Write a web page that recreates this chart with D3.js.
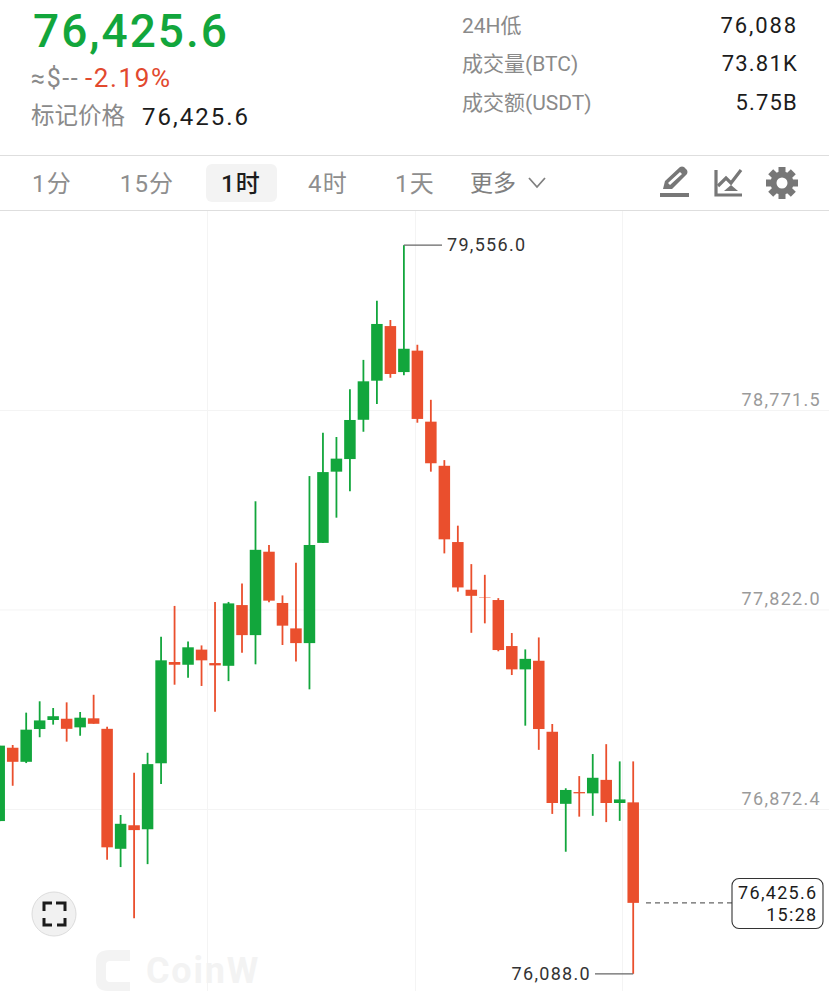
<!DOCTYPE html>
<html><head><meta charset="utf-8">
<script src="https://cdn.jsdelivr.net/npm/d3@7"></script>
<style>html,body{margin:0;padding:0;background:#fff;overflow:hidden}svg{display:block}
text{font-family:"Roboto","Noto Sans CJK SC",sans-serif}</style></head><body>
<script>
const opens =[76815,77164,77097,77253,77296,77302,77261,77304,77254,76683,76795,76776,77090,77572,77559,77631,77567,77554,77843,77700,78097,77853,77732,77662,78139,78478,78538,78725,78911,79171,78952,79054,78716,78506,78143,77916,77881,77867,77648,77537,77578,77240,76897,76953,76947,77011,76901,76904];
const highs =[77177,77177,77331,77385,77353,77380,77334,77416,77264,76844,77045,77140,77692,77839,77670,77651,77858,77858,77946,78337,78129,77889,78045,78457,78663,78643,78870,79010,79292,79200,79556,79082,78820,78533,78221,78038,77987,77876,77710,77632,77689,77277,76971,77029,77134,77181,77099,77099];
const lows  =[76810,76983,77091,77214,77274,77193,77221,77278,76631,76596,76353,76610,76991,77464,77497,77458,77335,77481,77616,77561,77856,77653,77575,77442,78139,78259,78385,78668,78800,78925,78937,78711,78478,78089,77907,77711,77756,77623,77510,77269,77154,76849,76669,76836,76840,76810,76816,76088];
const closes=[77174,77097,77250,77294,77314,77254,77307,77278,76690,76802,76772,77086,77580,77559,77642,77580,77556,77851,77700,78106,77864,77745,77662,78129,78476,78540,78724,78908,79181,78943,79063,78729,78518,78156,77927,77887,77879,77629,77537,77587,77253,76901,76963,76947,77021,76901,76918,76425.6];
const axisTicks=[78771.5,77822.0,76872.4];
const highLabel=79556.0, lowLabel=76088.0, lastPrice=76425.6, countdown="15:28";
const intervals=["1分","15分","1时","4时","1天"];
const statNames=["24H低","成交量(BTC)","成交额(USDT)"];
const statValues=["76,088","73.81K","5.75B"];

const W=829,H=991,GREEN="#12a63c",RED="#ea4f2d",GRID="#f4f4f4",GREY="#8a8a8a",INK="#1c1c1c";
const svg=d3.select("body").append("svg").attr("width",W).attr("height",H);
const x=d3.scaleLinear([0,47],[-0.8,633.2]);
const y=d3.scaleLinear([76872.4,78771.5],[809,410]);
const fmt=d3.format(",.1f");
const T=(px,py,s,size,fill,anchor,extra)=>{const t=svg.append("text").attr("x",px).attr("y",py).attr("font-size",size).attr("fill",fill).attr("text-anchor",anchor||"start").text(s);if(extra)Object.entries(extra).forEach(([k,v])=>t.attr(k,v));return t;};

// grid
svg.append("g").selectAll("line").data(axisTicks).join("line").attr("x1",0).attr("x2",W).attr("y1",d=>y(d)+.5).attr("y2",d=>y(d)+.5).attr("stroke",GRID);
svg.append("g").selectAll("line").data([207,415,622]).join("line").attr("x1",d=>d+.5).attr("x2",d=>d+.5).attr("y1",211).attr("y2",H).attr("stroke",GRID);

// watermark
const wm=svg.append("g").attr("fill","#f3f3f3");
wm.append("path").attr("d","M110 950h20v11h-20q-4 0-4 4v13q0 4 4 4h20v9h-22q-12 0-12-11v-19q0-11 14-11z");
wm.append("text").attr("x",146).attr("y",983).attr("font-size",36).attr("font-weight",700).attr("letter-spacing",1.8).text("CoinW");

// candles
const data=opens.map((o,i)=>({i,o,h:highs[i],l:lows[i],c:closes[i]}));
const col=d=>d.c>=d.o?GREEN:RED;
const cg=svg.append("g");
cg.selectAll("line").data(data).join("line").attr("x1",d=>x(d.i)).attr("x2",d=>x(d.i)).attr("y1",d=>y(d.h)).attr("y2",d=>y(d.l)).attr("stroke",col).attr("stroke-width",1.8);
cg.selectAll("rect").data(data).join("rect").attr("x",d=>x(d.i)-5.75).attr("width",11.5).attr("y",d=>y(Math.max(d.o,d.c))).attr("height",d=>Math.abs(y(d.o)-y(d.c))).attr("fill",col);

// y labels
const LS={"letter-spacing":1.3};
axisTicks.forEach(t=>T(821,y(t)-4,fmt(t),18,"#9a9a9a","end",LS));

// high/low callouts
const hiI=highs.indexOf(d3.max(highs)),loI=lows.indexOf(d3.min(lows));
svg.append("line").attr("x1",x(hiI)).attr("x2",442).attr("y1",y(highLabel)).attr("y2",y(highLabel)).attr("stroke","#666").attr("stroke-width",1.2);
T(447,y(highLabel)+6,fmt(highLabel),18,"#333","start",LS);
svg.append("line").attr("x1",x(loI)).attr("x2",595).attr("y1",y(lowLabel)).attr("y2",y(lowLabel)).attr("stroke","#666").attr("stroke-width",1.2);
T(591,y(lowLabel)+6,fmt(lowLabel),18,"#333","end",LS);

// last price
svg.append("line").attr("x1",646).attr("x2",732).attr("y1",y(lastPrice)).attr("y2",y(lastPrice)).attr("stroke","#666").attr("stroke-width",1.2).attr("stroke-dasharray","5 4");
svg.append("rect").attr("x",732).attr("y",878.5).attr("width",91).attr("height",50).attr("rx",7).attr("fill","#fff").attr("stroke","#333").attr("stroke-width",1.1);
T(817.5,899,fmt(lastPrice),18,INK,"end",LS);
T(817.5,921,countdown,18,INK,"end",LS);

// header
T(33,47,fmt(lastPrice),46,GREEN,"start",{"font-weight":500,"letter-spacing":2});
T(31,87,"≈$--",25,GREY,"start",{"letter-spacing":1.6});
T(85,87,"-2.19%",26,"#e2492e","start",{"letter-spacing":1.6});
T(31,124,"标记价格",23.5,GREY);
T(142,125,fmt(lastPrice),24,INK,"start",{"letter-spacing":2});
const rowY=[33,71,110];
statNames.forEach((s,i)=>T(462,rowY[i],s,21,GREY));
statValues.forEach((s,i)=>T(798,rowY[i],s,22,INK,"end",{"letter-spacing":i==0?1.9:1.2}));

// toolbar
svg.append("rect").attr("x",-1).attr("y",155.5).attr("width",W+2).attr("height",55).attr("fill","#fff").attr("stroke","#dedede");
svg.append("rect").attr("x",206).attr("y",164).attr("width",71).attr("height",38).attr("rx",6).attr("fill","#f3f3f3");
const tabX=[52,147,241,328,415];
intervals.forEach((s,i)=>T(tabX[i],192,s,24,i==2?INK:"#8e8e8e","middle",{"letter-spacing":1.2,"font-weight":i==2?500:400}));
T(470,191,"更多",23,"#808080");
svg.append("path").attr("d","M529 178l8 9 8-9").attr("fill","none").attr("stroke","#808080").attr("stroke-width",1.8);
// pencil
const ic=svg.append("g");
ic.append("rect").attr("x",660).attr("y",193).attr("width",29).attr("height",4).attr("fill","#777");
ic.append("path").attr("d","M663 189l2-8 15-14q2-1 4 0l3 3q1 2 0 4l-15 15z M668 183l2 2 12-11-2-2z").attr("fill","#777").attr("fill-rule","evenodd");
// chart
ic.append("path").attr("d","M716 170v25h26").attr("fill","none").attr("stroke","#777").attr("stroke-width",3.2);
ic.append("path").attr("d","M718 186l8-8 5 5 10-13").attr("fill","none").attr("stroke","#777").attr("stroke-width",3.2);
ic.append("path").attr("d","M724 191l7-6 7 6z").attr("fill","#777");
// gear
const gear=svg.append("g").attr("transform","translate(782,183)");
gear.selectAll("rect").data(d3.range(8)).join("rect").attr("x",-3.5).attr("y",-16).attr("width",7).attr("height",8).attr("fill","#777").attr("transform",d=>`rotate(${d*45})`);
gear.append("circle").attr("r",8.5).attr("fill","none").attr("stroke","#777").attr("stroke-width",6);

// fullscreen
svg.append("circle").attr("cx",54).attr("cy",914).attr("r",22).attr("fill","#f1f1f1").attr("stroke","#dcdcdc");
svg.append("path").attr("d","M44 911v-8h8 M56 903h9v8 M65 918v7h-8 M52 925h-8v-7").attr("fill","none").attr("stroke","#1a1a1a").attr("stroke-width",3);
</script></body></html>
